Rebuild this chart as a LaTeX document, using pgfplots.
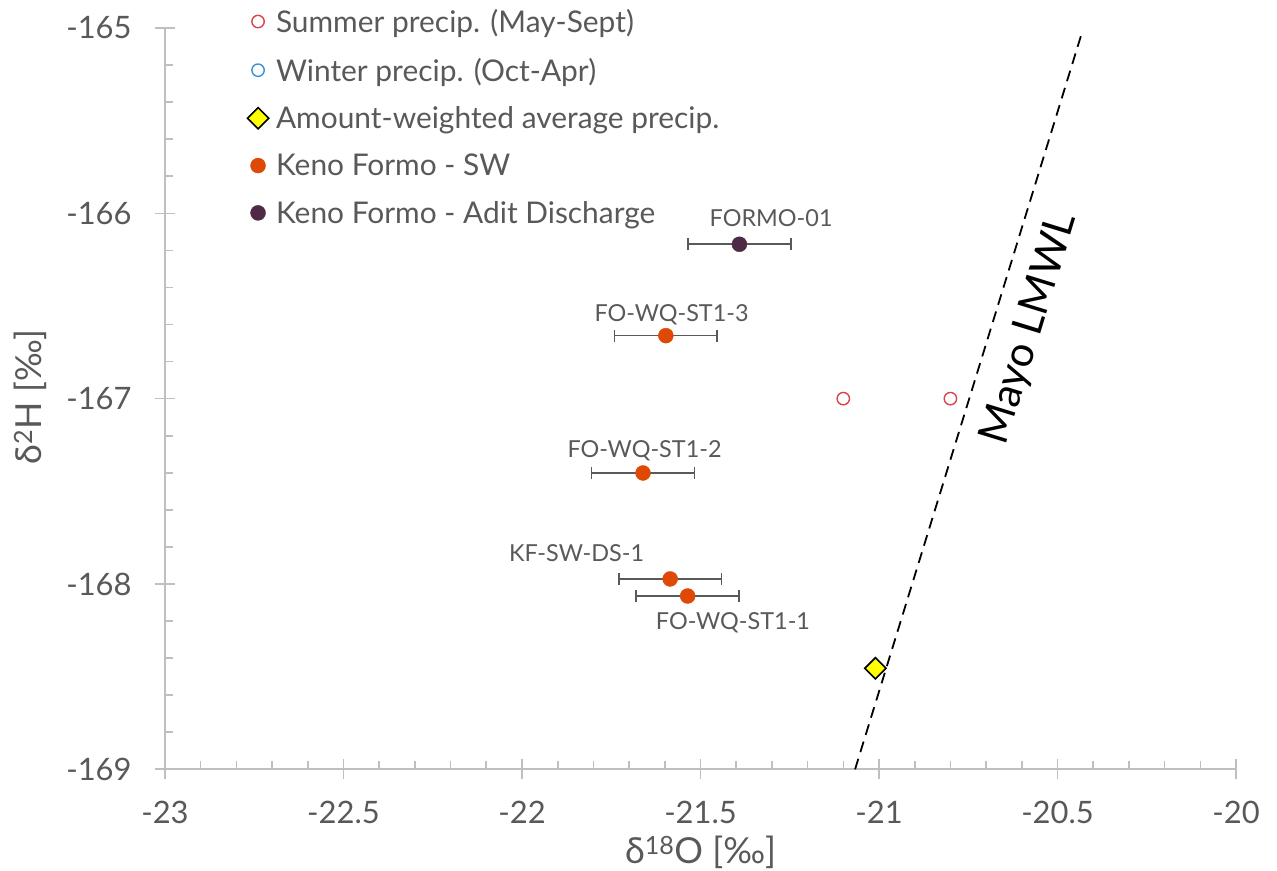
\documentclass[border=0pt]{standalone}
\usepackage{fontspec}
\setmainfont{Lato}
\usepackage{pgfplots}
\pgfplotsset{compat=1.18}
\usepackage{pgfplotstable}

\definecolor{axgray}{HTML}{BFBFBF}
\definecolor{txtgray}{HTML}{595959}
\definecolor{summer}{HTML}{D9434A}
\definecolor{winter}{HTML}{3A8FD4}
\definecolor{swcol}{HTML}{DE4A06}
\definecolor{adit}{HTML}{4F2A45}
\definecolor{diam}{HTML}{FFFF00}

% summer precipitation samples
\pgfplotstableread{
x       y
-21.100 -167.00
-20.800 -167.00
}\summer

% amount-weighted average precipitation
\pgfplotstableread{
x       y
-21.010 -168.455
}\avgprecip

% Keno Formo surface water (label offsets in bp)
\pgfplotstableread{
x       y        ex    label        dx     dy
-21.597 -166.660 0.144 FO-WQ-ST1-3  5.7    20.7
-21.661 -167.401 0.144 FO-WQ-ST1-2  1.5    22.0
-21.585 -167.973 0.144 KF-SW-DS-1   -93.6  26.0
-21.536 -168.065 0.144 FO-WQ-ST1-1  45.3   -27.0
}\sw

% adit discharge
\pgfplotstableread{
x       y        ex    label     dx    dy
-21.391 -166.167 0.144 FORMO-01  31.7  26.3
}\adit

% Mayo local meteoric water line
\pgfplotstableread{
x       y
-21.067 -169.000
-20.432 -165.028
}\lmwl

\begin{document}
\begin{tikzpicture}
\begin{axis}[
  name=ax,
  scale only axis,
  width=1071bp, height=741.3bp,
  xmin=-23, xmax=-20, ymin=-169, ymax=-165,
  axis lines=left,
  axis line style={-, draw=axgray, line width=1.6bp},
  xtick={-23,-22.5,...,-20}, ytick={-169,-168,...,-165},
  minor x tick num=4, minor y tick num=4,
  tick align=inside,
  major tick length=20bp, minor tick length=8bp,
  tick style={draw=axgray, line width=1.6bp},
  major x tick style={yshift=-10bp},
  major y tick style={xshift=-10bp},
  /pgf/number format/assume math mode=true,
  ticklabel style={font=\fontsize{31}{37}\selectfont, text=txtgray},
  xticklabel style={anchor=base, yshift=-54bp},
  yticklabel style={anchor=east, xshift=-30bp},
  xlabel={δ\textsuperscript{18}O [‰]},
  ylabel={δ\textsuperscript{2}H [‰]},
  every axis x label/.style={at={(rel axis cs:0.5,0)}, anchor=center, yshift=-83bp,
    font=\fontsize{36}{42}\selectfont, text=txtgray},
  every axis y label/.style={at={(rel axis cs:0,0.5)}, xshift=-135bp, yshift=2bp, rotate=90, anchor=center,
    font=\fontsize{36}{42}\selectfont, text=txtgray},
  legend style={draw=none, fill=none, at={(rel axis cs:0.074,1.031)}, anchor=north west,
    font=\fontsize{30}{36}\selectfont, text=txtgray, row sep=20bp},
  legend cell align=left,
  legend image code/.code={\draw[#1] plot coordinates {(0bp,0bp)}; \path[draw=none] (0bp,0bp) (16bp,0bp);},
  clip=false,
]
\addlegendimage{only marks, mark=o, mark size=6.2bp, mark options={line width=1.4bp}, draw=summer}
\addlegendentry{Summer precip. (May-Sept)}
\addlegendimage{only marks, mark=o, mark size=6.2bp, mark options={line width=1.4bp}, draw=winter}
\addlegendentry{Winter precip. (Oct-Apr)}
\addlegendimage{only marks, mark=square*, mark size=7.5bp, mark options={rotate=45, fill=diam, draw=black, line width=1.6bp}}
\addlegendentry{Amount-weighted average precip.}
\addlegendimage{only marks, mark=*, mark size=7.5bp, color=swcol}
\addlegendentry{Keno Formo - SW}
\addlegendimage{only marks, mark=*, mark size=7.5bp, color=adit}
\addlegendentry{Keno Formo - Adit Discharge}

% meteoric water line
\addplot[forget plot, black, dashed, line width=1.8bp, dash pattern=on 11bp off 7bp] table {\lmwl};

% precipitation
\addplot[forget plot, only marks, mark=o, mark size=6.2bp, mark options={line width=1.4bp}, draw=summer] table {\summer};
\addplot[forget plot, only marks, mark=square*, mark size=7.5bp, mark options={rotate=45, fill=diam, draw=black, line width=1.6bp}] table {\avgprecip};

% samples with labels
\addplot[forget plot, only marks, mark=*, mark size=7.5bp, color=swcol,
  point meta=explicit symbolic,
  visualization depends on={\thisrow{dx}\as\ldx},
  visualization depends on={\thisrow{dy}\as\ldy},
  nodes near coords,
  nodes near coords style={anchor=center, xshift=\ldx bp, yshift=\ldy bp, text=txtgray, font=\fontsize{23.5}{28}\selectfont},
  error bars/.cd, x dir=both, x explicit, error mark=|,
  error bar style={line width=1.6bp, draw=txtgray},
  error mark options={mark size=6bp, line width=1.6bp, draw=txtgray}]
  table[x=x, y=y, x error=ex, meta=label] {\sw};
\addplot[forget plot, only marks, mark=*, mark size=7.5bp, color=adit,
  point meta=explicit symbolic,
  visualization depends on={\thisrow{dx}\as\ldx},
  visualization depends on={\thisrow{dy}\as\ldy},
  nodes near coords,
  nodes near coords style={anchor=center, xshift=\ldx bp, yshift=\ldy bp, text=txtgray, font=\fontsize{23.5}{28}\selectfont},
  error bars/.cd, x dir=both, x explicit, error mark=|,
  error bar style={line width=1.6bp, draw=txtgray},
  error mark options={mark size=6bp, line width=1.6bp, draw=txtgray}]
  table[x=x, y=y, x error=ex, meta=label] {\adit};

\node[rotate=72.9, font=\fontsize{42}{48}\selectfont, text=black] at (axis cs:-20.577,-166.624) {Mayo LMWL};
\end{axis}
\pgfresetboundingbox
\path[use as bounding box] ([xshift=-165bp,yshift=-101.7bp]ax.south west) rectangle ([xshift=41bp,yshift=28bp]ax.north east);
\end{tikzpicture}
\end{document}
